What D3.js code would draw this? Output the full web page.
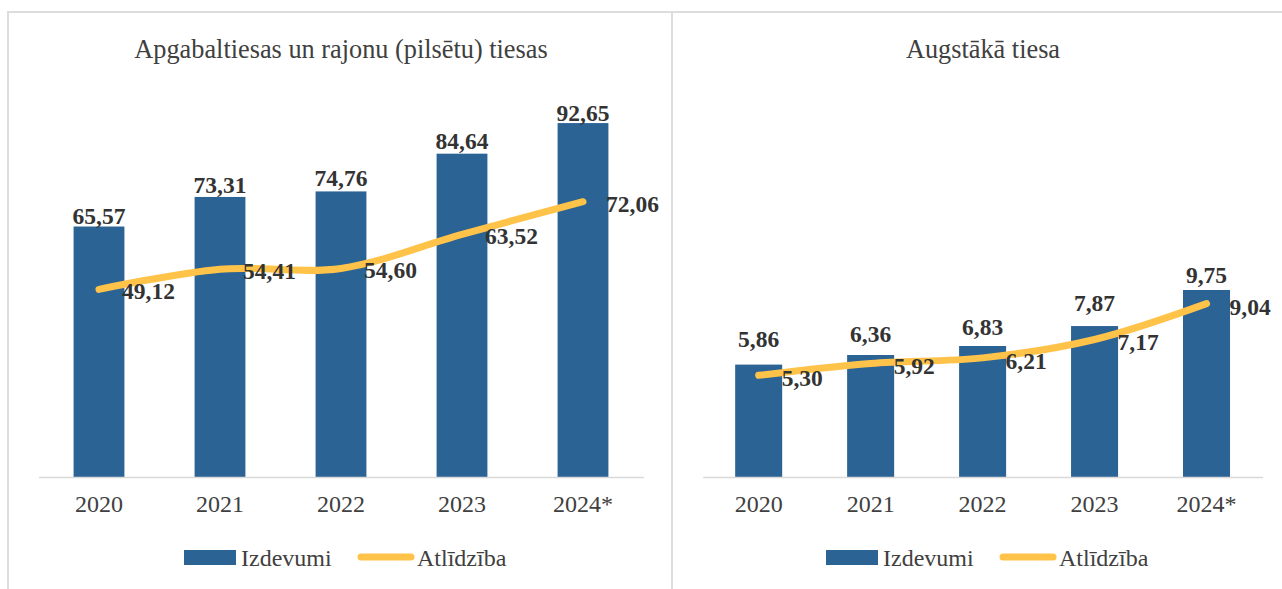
<!DOCTYPE html>
<html><head><meta charset="utf-8">
<script src="https://cdn.jsdelivr.net/npm/d3@7/dist/d3.min.js"></script>
<style>
html,body{margin:0;padding:0;background:#fff;}
svg text{font-family:"Liberation Serif","Times New Roman",serif;}
</style></head>
<body><svg id="c" width="1282" height="589"></svg>
<script>
const years = ["2020","2021","2022","2023","2024*"];
const titleLeft = "Apgabaltiesas un rajonu (pilsētu) tiesas";
const titleRight = "Augstākā tiesa";
const izdevumiLeft = [65.57, 73.31, 74.76, 84.64, 92.65];
const atlidzibaLeft = [49.12, 54.41, 54.60, 63.52, 72.06];
const izdevumiRight = [5.86, 6.36, 6.83, 7.87, 9.75];
const atlidzibaRight = [5.30, 5.92, 6.21, 7.17, 9.04];
const seriesNames = ["Izdevumi", "Atlīdzība"];

// label gaps above bars (layout only)
const gapLeft = [3, 4, 5, 5, 2];
const gapRight = [18, 13, 11, 15, 7];

const barColor = "#2b6394";
const lineColor = "#ffc34a";
const textColor = "#404040";
const fmt = v => v.toFixed(2).replace(".", ",");

const svg = d3.select("#c");

const borderColor = "#dcdcdc";
svg.append("line").attr("x1",7).attr("x2",1282).attr("y1",12).attr("y2",12).attr("stroke",borderColor).attr("stroke-width",2);
svg.append("line").attr("x1",8).attr("x2",8).attr("y1",11).attr("y2",589).attr("stroke",borderColor).attr("stroke-width",2);
svg.append("line").attr("x1",672).attr("x2",672).attr("y1",11).attr("y2",589).attr("stroke",borderColor).attr("stroke-width",2);

function panel(cfg) {
  const g = svg.append("g");
  const x = d3.scaleBand().domain(years).range([cfg.x0, cfg.x1]).paddingInner(0.58).paddingOuter(0.29);
  const y = d3.scaleLinear().domain([0, cfg.ymax]).range([477, cfg.ytop]);

  g.append("text").attr("x", cfg.titleX).attr("y", 58).attr("text-anchor","middle")
    .attr("font-size", 26.3).attr("fill", textColor).text(cfg.title);

  g.selectAll("rect.bar").data(cfg.bars).enter().append("rect").attr("class","bar")
    .attr("x",(d,i)=>x(years[i])).attr("width",x.bandwidth())
    .attr("y",d=>y(d)).attr("height",d=>y(0)-y(d)).attr("fill",barColor);

  const ax = g.append("g").attr("transform","translate(0,477)")
    .call(d3.axisBottom(x).tickSize(0).tickPadding(18));
  ax.select(".domain").attr("stroke","#d9d9d9").attr("stroke-width",1.5);
  ax.selectAll("text").attr("font-size",24).attr("fill",textColor)
    .attr("font-family",'"Liberation Serif","Times New Roman",serif');

  const cx = i => x(years[i]) + x.bandwidth()/2;
  const line = d3.line().x((d,i)=>cx(i)).y(d=>y(d)).curve(d3.curveCatmullRom.alpha(0.5));
  g.append("path").datum(cfg.line).attr("d", line).attr("fill","none")
    .attr("stroke",lineColor).attr("stroke-width",7).attr("stroke-linecap","round");

  g.selectAll("text.bl").data(cfg.bars).enter().append("text").attr("class","bl")
    .attr("x",(d,i)=>cx(i)).attr("y",(d,i)=>y(d)-cfg.gaps[i]).attr("text-anchor","middle")
    .attr("font-size",23.5).attr("font-weight","bold").attr("fill","#333").text(fmt);

  g.selectAll("text.ll").data(cfg.line).enter().append("text").attr("class","ll")
    .attr("x",(d,i)=>cx(i)+23).attr("y",d=>y(d)+cfg.lineDy).attr("dominant-baseline","central")
    .attr("font-size",23.5).attr("font-weight","bold").attr("fill","#333").text(fmt);

  const lg = g.append("g");
  lg.append("rect").attr("x",cfg.legX).attr("y",550).attr("width",52).attr("height",15).attr("fill",barColor);
  lg.append("text").attr("x",cfg.legX+57).attr("y",566).attr("font-size",24).attr("fill",textColor).text(seriesNames[0]);
  lg.append("line").attr("x1",cfg.legX+177).attr("x2",cfg.legX+227).attr("y1",557).attr("y2",557)
    .attr("stroke",lineColor).attr("stroke-width",7).attr("stroke-linecap","round");
  lg.append("text").attr("x",cfg.legX+233).attr("y",566).attr("font-size",24).attr("fill",textColor).text(seriesNames[1]);
}

panel({x0:38.5, x1:643.5, ymax:100, ytop:477-382, title:titleLeft, titleX:341,
       bars:izdevumiLeft, line:atlidzibaLeft, legX:184, gaps:gapLeft, lineDy:2});
panel({x0:702.7, x1:1262.5, ymax:12, ytop:477-12*19.18, title:titleRight, titleX:983,
       bars:izdevumiRight, line:atlidzibaRight, legX:826, gaps:gapRight, lineDy:3});
</script></body></html>
